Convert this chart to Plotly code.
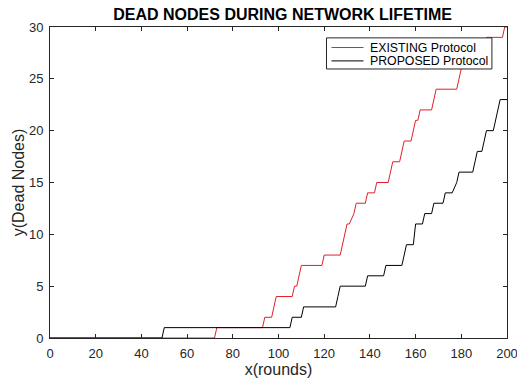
import plotly.graph_objects as go

# Breakpoints of the staircase curves (round, number of dead nodes)
existing_rounds = [0, 72, 73, 93, 94, 97, 98, 99, 106, 107, 108, 109, 110, 119, 120, 127, 128, 129, 130, 131,
                   133, 134, 138, 139, 142, 143, 148, 149, 150, 153, 154, 155, 158, 159, 160, 161, 162, 167,
                   168, 169, 178, 179, 180, 182, 183, 186, 187, 190, 191, 198, 199, 200]
existing_dead = [0, 0, 1, 1, 2, 2, 3, 4, 4, 5, 5, 6, 7, 7, 8, 8, 9, 10, 11, 11,
                 12, 13, 13, 14, 14, 15, 15, 16, 17, 17, 18, 19, 19, 20, 21, 21, 22, 22,
                 23, 24, 24, 25, 26, 26, 27, 27, 28, 28, 29, 29, 30, 30]

proposed_rounds = [0, 49, 50, 105, 106, 110, 111, 125, 126, 127, 138, 139, 146, 147, 154, 155, 156, 159, 160,
                   163, 164, 167, 168, 172, 173, 176, 178, 179, 185, 186, 187, 189, 190, 191, 194, 195,
                   196, 197, 200]
proposed_dead = [0, 0, 1, 1, 2, 2, 3, 3, 4, 5, 5, 6, 6, 7, 7, 8, 9, 9, 11,
                 11, 12, 12, 13, 13, 14, 14, 15, 16, 16, 17, 18, 18, 19, 20, 20, 21,
                 22, 23, 23]

series_names = ["EXISTING Protocol", "PROPOSED Protocol"]
series_colors = ["#e0202a", "#000000"]

x_ticks = list(range(0, 201, 20))
y_ticks = list(range(0, 31, 5))

FONT = "Liberation Sans, Arial, sans-serif"
AX = "#262626"

fig = go.Figure()
fig.add_trace(go.Scatter(x=existing_rounds, y=existing_dead, mode="lines", name=series_names[0],
                         line=dict(color=series_colors[0], width=1), showlegend=False))
fig.add_trace(go.Scatter(x=proposed_rounds, y=proposed_dead, mode="lines", name=series_names[1],
                         line=dict(color=series_colors[1], width=1), showlegend=False))

# Legend drawn as a MATLAB-style compact box
lx0, lx1, ly0, ly1 = 0.605, 0.967, 0.865, 0.965
shapes = [dict(type="rect", xref="paper", yref="paper", x0=lx0, x1=lx1, y0=ly0, y1=ly1,
               fillcolor="white", line=dict(color=AX, width=1), layer="above")]
annotations = []
for i, (nm, col) in enumerate(zip(series_names, series_colors)):
    yy = 0.934 - i * 0.043
    shapes.append(dict(type="line", xref="paper", yref="paper", x0=0.616, x1=0.686, y0=yy, y1=yy,
                       line=dict(color=col, width=1), layer="above"))
    annotations.append(dict(xref="paper", yref="paper", x=0.695, y=yy, text=nm, showarrow=False,
                            xanchor="left", yanchor="middle", font=dict(family=FONT, size=12.3, color="#000")))

fig.update_layout(
    width=517, height=381,
    margin=dict(l=50, r=10, t=27, b=43),
    paper_bgcolor="white", plot_bgcolor="white",
    title=dict(text="<b>DEAD NODES DURING NETWORK LIFETIME</b>", xref="paper", x=0.509, xanchor="center",
               y=0.963, yanchor="middle", font=dict(family=FONT, size=16, color="#000")),
    font=dict(family=FONT, size=13, color=AX),
    shapes=shapes, annotations=annotations,
    showlegend=False,
)
fig.update_xaxes(range=[0, 200], tickvals=x_ticks, ticks="inside", ticklen=4, tickcolor=AX,
                 showline=True, linecolor=AX, linewidth=1, mirror="ticks", showgrid=False, zeroline=False,
                 tickfont=dict(size=13, color=AX), ticklabelstandoff=3, automargin=False,
                 ticklabeloverflow="allow",
                 title=dict(text="x(rounds)", font=dict(size=16, color=AX), standoff=4))
fig.update_yaxes(range=[0, 30], tickvals=y_ticks, ticks="inside", ticklen=4, tickcolor=AX,
                 showline=True, linecolor=AX, linewidth=1, mirror="ticks", showgrid=False, zeroline=False,
                 tickfont=dict(size=13, color=AX), ticklabelstandoff=3, automargin=False,
                 ticklabeloverflow="allow",
                 title=dict(text="y(Dead Nodes)", font=dict(size=16, color=AX), standoff=0))

fig.write_html("out.html", config={"displayModeBar": False},
               post_script="document.body.style.margin='0';document.body.style.overflow='hidden';")
